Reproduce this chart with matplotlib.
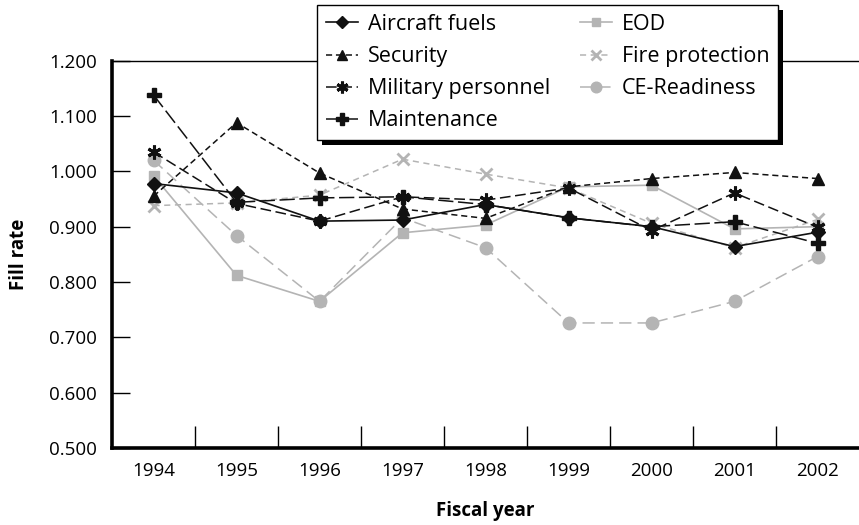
import matplotlib
matplotlib.use("Agg")
import matplotlib.pyplot as plt
from matplotlib.patches import Rectangle

plt.rcParams["font.family"] = ["Open Sans", "DejaVu Sans"]

years = ["1994", "1995", "1996", "1997", "1998", "1999", "2000", "2001", "2002"]

aircraft_fuels = [0.978, 0.961, 0.910, 0.912, 0.940, 0.916, 0.900, 0.864, 0.890]
security = [0.955, 1.088, 0.997, 0.932, 0.915, 0.972, 0.987, 0.998, 0.987]
military_personnel = [1.035, 0.942, 0.910, 0.954, 0.948, 0.970, 0.893, 0.961, 0.899]
maintenance = [1.138, 0.944, 0.952, 0.954, 0.940, 0.916, 0.900, 0.909, 0.870]
eod = [0.992, 0.812, 0.765, 0.889, 0.903, 0.972, 0.975, 0.896, 0.900]
fire_protection = [0.938, 0.943, 0.957, 1.022, 0.995, 0.970, 0.906, 0.862, 0.913]
ce_readiness = [1.020, 0.884, 0.765, 0.916, 0.862, 0.726, 0.726, 0.765, 0.846]

GRAY = "#b4b4b4"
BLK = "#111111"

fig = plt.figure(figsize=(8.59, 5.25), dpi=100)
ax = fig.add_axes([0.1304, 0.1467, 0.8696, 0.7377])
x = range(len(years))

# black series
ax.plot(x, aircraft_fuels, color=BLK, lw=1.2, marker="D", ms=7, label="Aircraft fuels", zorder=6)
ax.plot(x, security, color=BLK, lw=1.1, dashes=(4, 2.5), marker="^", ms=8, label="Security", zorder=6)
ax.plot(x, military_personnel, color=BLK, lw=1.1, dashes=(7, 3), marker=(6, 2, 0), ms=10,
        mew=2.2, label="Military personnel", zorder=6)
ax.plot(x, maintenance, color=BLK, lw=1.1, dashes=(10, 3), marker="P", ms=10, label="Maintenance", zorder=6)
# gray series
ax.plot(x, eod, color=GRAY, lw=1.2, marker="s", ms=7, label="EOD", zorder=5)
ax.plot(x, fire_protection, color=GRAY, lw=1.1, dashes=(4, 3), marker="x", ms=9, mew=2,
        label="Fire protection", zorder=5)
ax.plot(x, ce_readiness, color=GRAY, lw=1.1, dashes=(8, 4), marker="o", ms=9, label="CE-Readiness", zorder=5)

ax.set_xlim(-0.5, len(years) - 0.5)
ax.set_ylim(0.5, 1.2)

ax.set_xticks(list(x))
ax.set_xticklabels(years)
ax.set_xticks([i + 0.5 for i in range(len(years) - 1)], minor=True)
ax.tick_params(axis="x", which="major", length=0, pad=10, labelsize=13.5)
ax.tick_params(axis="x", which="minor", direction="in", length=16, width=1, color="k")

ax.set_yticks([0.5 + 0.1 * i for i in range(8)])
ax.set_yticklabels(["%.3f" % (0.5 + 0.1 * i) for i in range(8)])
ax.tick_params(axis="y", direction="in", length=13, width=1, pad=11, labelsize=13.5)

for s in ("left", "bottom"):
    ax.spines[s].set_linewidth(2.6)
ax.spines["top"].set_linewidth(1.0)
ax.spines["right"].set_visible(False)

ax.set_xlabel("Fiscal year", fontsize=13.5, fontweight="bold", labelpad=15)
ax.set_ylabel("Fill rate", fontsize=13.5, fontweight="bold", labelpad=14)

handles, labels = ax.get_legend_handles_labels()
leg = fig.legend(handles, labels, ncol=2, loc="upper left", bbox_to_anchor=(0.369, 0.99),
                 fontsize=15.5, frameon=True, fancybox=False, framealpha=1, edgecolor="k",
                 numpoints=1, handlelength=1.5, handletextpad=0.45, columnspacing=1.4,
                 labelspacing=0.52, borderpad=0.4, borderaxespad=0, markerscale=0.85)
leg.get_frame().set_linewidth(1.0)
leg.set_zorder(10)

# drop shadow behind the legend box
fig.canvas.draw()
bb = leg.get_window_extent()
shadow = Rectangle((bb.x0 + 5, bb.y0 - 5), bb.width, bb.height, transform=None,
                   facecolor="k", edgecolor="none", zorder=9)
fig.patches.append(shadow)
shadow.set_figure(fig)

fig.savefig("out.png", dpi=100)
